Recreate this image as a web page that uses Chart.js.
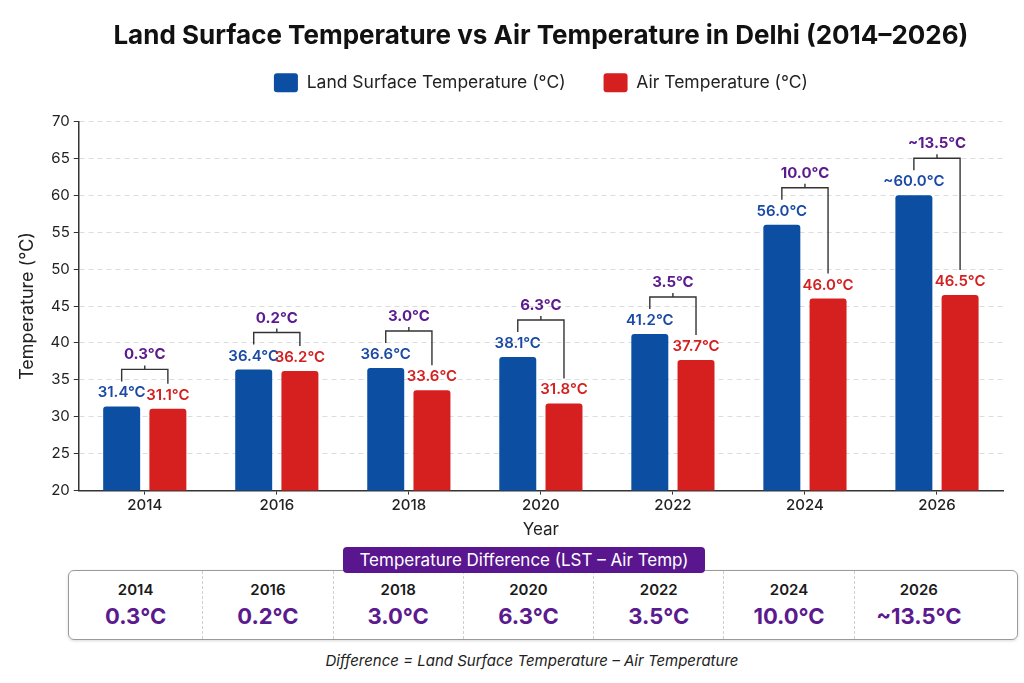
<!DOCTYPE html>
<html>
<head>
<meta charset="utf-8">
<script src="https://cdn.jsdelivr.net/npm/chart.js@4"></script>
<style>
  html, body { margin: 0; padding: 0; background: #fff; }
  body { width: 1024px; height: 683px; position: relative; overflow: hidden; font-family: Inter, "Noto Sans", sans-serif; }
  #chartBox { position: absolute; left: 0; top: 0; width: 1024px; height: 548px; }
  #diffBox {
    position: absolute; left: 68px; top: 570px; width: 950px; height: 70px;
    border: 1.5px solid #9a9a9a; border-radius: 6px; box-sizing: border-box;
    display: flex; box-shadow: 0 1px 3px rgba(0,0,0,0.15);
  }
  #diffBox .col { display: flex; flex-direction: column; align-items: center; justify-content: center; border-left: 1px dashed #cfcfcf; }
  #diffBox .col:first-child { border-left: none; }
  #diffBox .yr { font-size: 15px; font-weight: 600; color: #1a1a1a; line-height: 20px; }
  #diffBox .val { font-size: 22px; font-weight: 700; color: #5b1a8e; line-height: 28px; margin-top: 2px; }
  #badge {
    position: absolute; left: 343px; top: 547px; width: 362px; height: 26px;
    background: #5a168f; color: #fff; border-radius: 4px; font-size: 17px;
    display: flex; align-items: center; justify-content: center; z-index: 2;
  }
  #note { position: absolute; left: 0; width: 1064px; top: 651px; text-align: center; font-size: 15px; font-style: italic; color: #222; }
</style>
</head>
<body>
<div id="chartBox"><canvas id="tempChart"></canvas></div>
<div id="badge">Temperature Difference (LST – Air Temp)</div>
<div id="diffBox"></div>
<div id="note">Difference = Land Surface Temperature – Air Temperature</div>
<script>
const years = ['2014', '2016', '2018', '2020', '2022', '2024', '2026'];
const lstValues = [31.4, 36.4, 36.6, 38.1, 41.2, 56.0, 60.0];
const airValues = [31.1, 36.2, 33.6, 31.8, 37.7, 46.0, 46.5];
const diffValues = [0.3, 0.2, 3.0, 6.3, 3.5, 10.0, 13.5];
const approxYears = ['2026'];
const yTicks = [20, 25, 30, 35, 40, 45, 50, 55, 60, 65, 70];

const blue = '#0b4ea2';
const red = '#d61f1f';
const purple = '#5b1a8e';
const font = 'Inter, "Noto Sans", sans-serif';

function fmt(v, year) {
  return (approxYears.includes(year) ? '~' : '') + v.toFixed(1) + '°C';
}

// value labels + brackets with the difference
const labelPlugin = {
  id: 'labelPlugin',
  afterDatasetsDraw(chart) {
    const ctx = chart.ctx;
    const lstBars = chart.getDatasetMeta(0).data;
    const airBars = chart.getDatasetMeta(1).data;
    ctx.save();
    ctx.textAlign = 'center';
    ctx.textBaseline = 'alphabetic';
    years.forEach(function (yr, i) {
      const a = lstBars[i], b = airBars[i];
      ctx.font = '600 15px ' + font;
      ctx.fillStyle = '#1a4aa5';
      ctx.fillText(fmt(lstValues[i], yr), a.x, a.y - 9);
      ctx.fillStyle = '#d42020';
      ctx.fillText(fmt(airValues[i], null), b.x, b.y - 9);

      const leftBottom = a.y - 25;
      const rightBottom = b.y - 25;
      const top = a.y - 37;
      const mid = (a.x + b.x) / 2;
      ctx.strokeStyle = '#333';
      ctx.lineWidth = 1.4;
      ctx.beginPath();
      ctx.moveTo(a.x, leftBottom);
      ctx.lineTo(a.x, top);
      ctx.lineTo(b.x, top);
      ctx.lineTo(b.x, rightBottom);
      ctx.moveTo(mid, top);
      ctx.lineTo(mid, top - 4);
      ctx.stroke();

      ctx.fillStyle = purple;
      ctx.font = 'bold 15px ' + font;
      ctx.fillText(fmt(diffValues[i], yr), mid, top - 10);
    });
    ctx.restore();
  }
};

new Chart(document.getElementById('tempChart').getContext('2d'), {
  type: 'bar',
  data: {
    labels: years,
    datasets: [
      {
        label: 'Land Surface Temperature (°C)',
        data: lstValues,
        backgroundColor: blue,
        borderRadius: 3,
        borderSkipped: 'bottom',
      },
      {
        label: 'Air Temperature (°C)',
        data: airValues,
        backgroundColor: red,
        borderRadius: 3,
        borderSkipped: 'bottom',
      },
    ],
  },
  options: {
    responsive: true,
    maintainAspectRatio: false,
    animation: false,
    layout: { padding: { left: 13, right: 21, top: 0, bottom: 4 } },
    datasets: { bar: { categoryPercentage: 0.7, barPercentage: 0.8 } },
    plugins: {
      title: {
        display: true,
        fullSize: false,
        text: 'Land Surface Temperature vs Air Temperature in Delhi (2014–2026)',
        color: '#111',
        font: { family: font, size: 26, weight: 'bold' },
        padding: { top: 21, bottom: -17 },
      },
      // empty spacer between legend and plot
      subtitle: {
        display: true,
        text: '',
        weight: 500,
        font: { size: 1 },
        padding: { top: 9, bottom: 9 },
      },
      legend: {
        position: 'top',
        fullSize: false,
        labels: {
          boxWidth: 24,
          boxHeight: 19,
          useBorderRadius: true,
          borderRadius: 3,
          padding: 38,
          color: '#222',
          font: { family: font, size: 17.5 },
        },
      },
      tooltip: { enabled: false },
    },
    scales: {
      x: {
        grid: { display: true, drawOnChartArea: false, offset: false, tickLength: 4, color: '#333' },
        border: { color: '#333', width: 1.5 },
        ticks: { color: '#222', font: { family: font, size: 15, weight: '500' }, padding: 2 },
        title: { display: true, text: 'Year', color: '#222', font: { family: font, size: 17 }, padding: { top: 3 } },
      },
      y: {
        min: 20,
        max: 70,
        afterBuildTicks(axis) { axis.ticks = yTicks.map(function (v) { return { value: v }; }); },
        grid: { color: '#dcdcdc', tickColor: '#333', tickLength: 5, tickBorderDash: [], lineWidth: 1 },
        border: { color: '#333', width: 1.5, dash: [5, 4] },
        ticks: { color: '#222', font: { family: font, size: 15 }, padding: 4 },
        title: { display: true, text: 'Temperature (°C)', color: '#222', font: { family: font, size: 18 }, padding: { bottom: 8 } },
      },
    },
  },
  plugins: [labelPlugin],
});

// difference strip below the chart
const box = document.getElementById('diffBox');
const colWidths = [134, 130, 130, 130, 130, 130, 164];
years.forEach(function (yr, i) {
  const col = document.createElement('div');
  col.className = 'col';
  col.style.width = colWidths[i] + 'px';
  if (i === years.length - 1) { col.style.paddingRight = '34px'; col.style.boxSizing = 'border-box'; }
  col.innerHTML = '<div class="yr">' + yr + '</div><div class="val">' + fmt(diffValues[i], yr) + '</div>';
  box.appendChild(col);
});
</script>
</body>
</html>
